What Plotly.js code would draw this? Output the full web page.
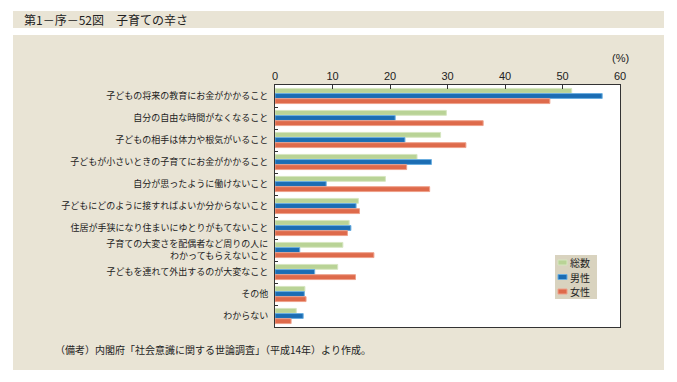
<!DOCTYPE html>
<html><head><meta charset="utf-8">
<script src="https://cdn.plot.ly/plotly-3.0.1.min.js"></script>
<style>html,body{margin:0;padding:0;background:#fff}</style>
</head><body><div id="chart" style="width:677px;height:382px"></div>
<script>
const categories = [
  "子どもの将来の教育にお金がかかること",
  "自分の自由な時間がなくなること",
  "子どもの相手は体力や根気がいること",
  "子どもが小さいときの子育てにお金がかかること",
  "自分が思ったように働けないこと",
  "子どもにどのように接すればよいか分からないこと",
  "住居が手狭になり住まいにゆとりがもてないこと",
  "子育ての大変さを配偶者など周りの人に<br>わかってもらえないこと",
  "子どもを連れて外出するのが大変なこと",
  "その他",
  "わからない"
];
const seriesNames = ["総数", "男性", "女性"];
const total = [51.6, 29.8, 28.8, 24.7, 19.2, 14.5, 12.9, 11.8, 10.9, 5.2, 3.7];
const male  = [56.9, 20.9, 22.6, 27.2, 8.9, 14.1, 13.2, 4.3, 6.9, 5.1, 4.9];
const female= [47.8, 36.2, 33.2, 22.9, 26.9, 14.7, 12.6, 17.2, 14.0, 5.4, 2.8];
const xTicks = [0, 10, 20, 30, 40, 50, 60];

const colors = ["#b9d396", "#1b6db3", "#de6a4b"];
const lines = ["#d6e6c0", "#6aaee0", "#eea08a"];
const vals = [total, male, female];
const data = vals.map((v, i) => ({
  type: "bar", orientation: "h", name: seriesNames[i],
  x: v, y: categories,
  marker: {color: colors[i], line: {color: lines[i], width: 1}},
  hoverinfo: "skip", showlegend: false
}));

// plot area: x 275..620 (345px), y 85..327 (242px)
const PW = 345, PH = 242, L = 275, B = 327;
const px = x => (x - L) / PW;
const py = y => (B - y) / PH;

const shapes = [
  {type: "rect", xref: "paper", yref: "paper", layer: "below",
   x0: px(13), x1: px(664), y0: py(35), y1: py(370), fillcolor: "#e9e4d5", line: {width: 0}},
  {type: "rect", xref: "paper", yref: "paper", layer: "below",
   x0: px(13), x1: px(664), y0: py(11), y1: py(28), fillcolor: "#e9e4d5", line: {width: 0}},
  {type: "rect", xref: "paper", yref: "paper", layer: "below",
   x0: 0, x1: 1, y0: 0, y1: 1, fillcolor: "#ffffff", line: {width: 0}},
  {type: "rect", xref: "paper", yref: "paper",
   x0: px(555), x1: px(597), y0: py(255), y1: py(299), fillcolor: "#d9d3bf", line: {width: 0}}
];
const annotations = [
  {xref: "paper", yref: "paper", x: px(22), y: py(19.5), xanchor: "left", yanchor: "middle",
   text: "第1－序－52図　子育ての辛さ", showarrow: false, font: {size: 12, color: "#222"}},
  {xref: "paper", yref: "paper", x: 1, y: py(58), xanchor: "center", yanchor: "middle",
   text: "(%)", showarrow: false, font: {size: 11, color: "#222", family: "Liberation Sans, Arial, sans-serif"}},
  {xref: "paper", yref: "paper", x: px(53), y: py(349), xanchor: "left", yanchor: "middle",
   text: "（備考）内閣府「社会意識に関する世論調査」（平成14年）より作成。", showarrow: false,
   font: {size: 10, color: "#222"}}
];
seriesNames.forEach((n, i) => {
  const yc = 262.5 + i * 14.5;
  shapes.push({type: "rect", xref: "paper", yref: "paper",
    x0: px(558), x1: px(567), y0: py(yc + 2.5), y1: py(yc - 2.5),
    fillcolor: colors[i], line: {color: lines[i], width: 1}});
  annotations.push({xref: "paper", yref: "paper", x: px(569), y: py(yc), xanchor: "left", yanchor: "middle",
    text: n, showarrow: false, borderpad: 0, font: {size: 10, color: "#222"}});
});

const layout = {
  width: 677, height: 382,
  paper_bgcolor: "#ffffff", plot_bgcolor: "#ffffff",
  margin: {l: 275, r: 57, t: 85, b: 55},
  font: {family: "Noto Sans CJK JP, sans-serif", color: "#222"},
  barmode: "group", bargap: 0.3, bargroupgap: 0.05,
  showlegend: false,
  xaxis: {side: "top", range: [0, 60], tickvals: xTicks, ticktext: xTicks.map(String),
    ticks: "inside", ticklen: 4, tickcolor: "#333", showgrid: false, zeroline: false,
    showline: true, linecolor: "#333", linewidth: 1, mirror: true,
    tickfont: {size: 11, family: "Liberation Sans, Arial, sans-serif", color: "#222"}, fixedrange: true},
  yaxis: {autorange: "reversed", type: "category", ticks: "inside", tickson: "boundaries",
    ticklen: 3, tickcolor: "#333", showgrid: false, showline: true, linecolor: "#333",
    linewidth: 1, mirror: true, tickfont: {size: 9, color: "#222"}, ticklabelstandoff: 4, fixedrange: true},
  shapes: shapes,
  annotations: annotations
};
Plotly.newPlot("chart", data, layout, {displayModeBar: false, staticPlot: true});
</script></body></html>
